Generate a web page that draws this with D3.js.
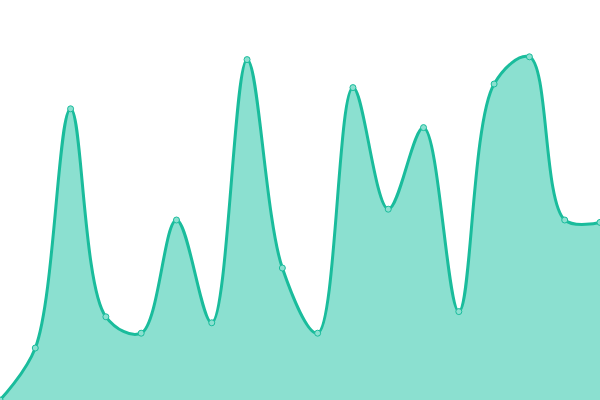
<!DOCTYPE html>
<html><head><meta charset="utf-8">
<script src="https://cdn.jsdelivr.net/npm/d3@7"></script>
<style>html,body{margin:0;padding:0;background:#fff;overflow:hidden}</style>
</head><body>
<svg id="c" width="600" height="400"></svg>
<script>
const categories = d3.range(18).map(i => "P" + (i + 1));
const values = [0, 13, 72.8, 20.8, 16.7, 45, 19.3, 85.1, 33, 16.7, 78.1, 47.7, 68.1, 22.1, 79, 85.8, 45, 44.4];

const W = 600, H = 400;
const svg = d3.select("#c");
const x = d3.scalePoint().domain(categories).range([0, W]);
const y = d3.scaleLinear().domain([0, 100]).range([H, 0]);

const curve = d3.curveCatmullRom.alpha(0.5);
const area = d3.area().x((d, i) => x(categories[i])).y0(y(0)).y1(d => y(d)).curve(curve);
const line = d3.line().x((d, i) => x(categories[i])).y(d => y(d)).curve(curve);

svg.append("path").datum(values).attr("d", area).attr("fill", "#8be0d0");
svg.append("path").datum(values).attr("d", line).attr("fill", "none")
  .attr("stroke", "#1abc9c").attr("stroke-width", 3);
svg.selectAll("circle").data(values).join("circle")
  .attr("cx", (d, i) => x(categories[i])).attr("cy", d => y(d)).attr("r", 3)
  .attr("fill", "#8be0d0").attr("stroke", "#1abc9c").attr("stroke-width", 1);
</script>
</body></html>
